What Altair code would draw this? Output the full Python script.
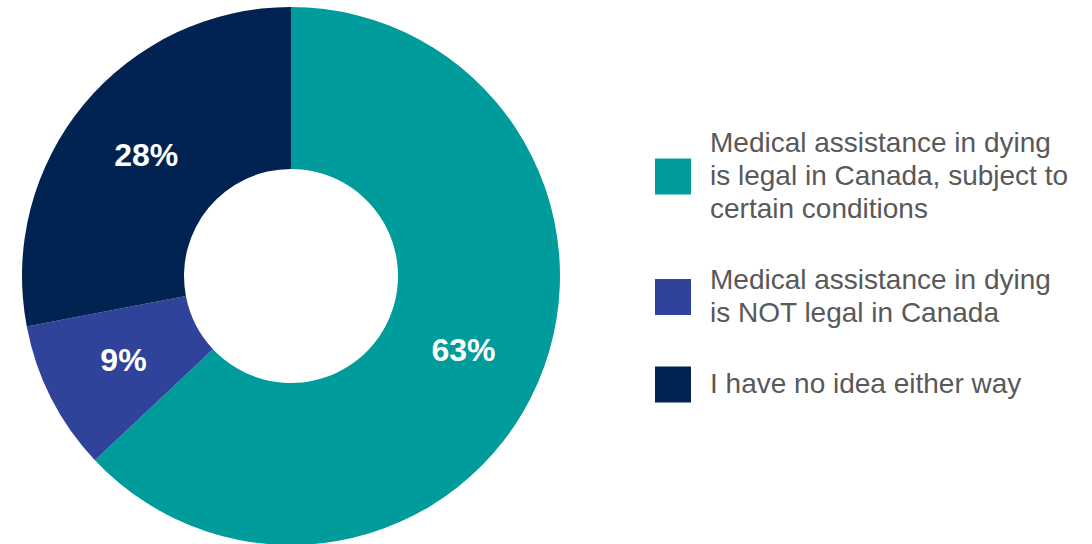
import altair as alt
import pandas as pd

categories = [
    "Medical assistance in dying\nis legal in Canada, subject to\n\u00a0certain conditions",
    "Medical assistance in dying\nis NOT legal in Canada",
    "I have no idea either way",
]
values = [63, 9, 28]
colors = ["#009B9B", "#30439A", "#002352"]

df = pd.DataFrame({"category": categories, "value": values, "rank": list(range(len(values)))})
df["label"] = df["value"].astype(str) + "%"

# legend layout derived from number of label lines
LINE_H = 33
GAP = 38
TOP = 127
centers, firsts = [], []
cursor = TOP
for c in categories:
    n = len(c.split("\n"))
    h = n * LINE_H
    centers.append(cursor + h / 2)
    firsts.append(cursor + LINE_H / 2)
    cursor += h + GAP
df["ycenter"] = centers
df["yfirst"] = firsts

color_scale = alt.Scale(domain=categories, range=colors)
pix = alt.Scale(domain=[0, 544], range=[0, 544])

base = alt.Chart(df).encode(
    theta=alt.Theta("value:Q", stack=True),
    order=alt.Order("rank:Q"),
    x=alt.value(291),
    y=alt.value(276),
)

arcs = base.mark_arc(radius=269, innerRadius=107).encode(
    color=alt.Color("category:N", scale=color_scale, legend=None)
)

texts = base.mark_text(
    radius=188, fontSize=32, fontWeight="bold", color="white", font="Liberation Sans"
).encode(text="label:N")

leg = alt.Chart(df)
squares = leg.mark_square(size=1296, filled=True, opacity=1).encode(
    x=alt.value(673),
    y=alt.Y("ycenter:Q", scale=pix, axis=None),
    color=alt.Color("category:N", scale=color_scale, legend=None),
)
labels = leg.mark_text(
    align="left",
    baseline="middle",
    fontSize=28,
    font="Liberation Sans",
    color="#595959",
    lineBreak="\n",
    lineHeight=LINE_H,
).encode(
    x=alt.value(710),
    y=alt.Y("yfirst:Q", scale=pix, axis=None),
    text="category:N",
)

chart = (
    alt.layer(arcs, texts, squares, labels)
    .properties(width=1092, height=544, autosize=alt.AutoSizeParams(type="none"), padding=0)
    .configure_view(stroke=None)
)

chart.save("out.html", embed_options={"renderer": "svg", "actions": False})
